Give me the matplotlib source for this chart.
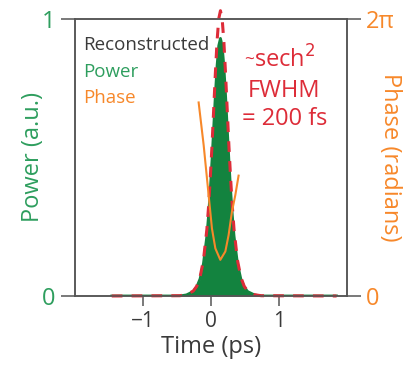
import numpy as np
import matplotlib
matplotlib.use("Agg")
import matplotlib.pyplot as plt

plt.rcParams['font.family'] = ['Open Sans', 'DejaVu Sans']

# --- data ---
# reconstructed power (a.u.)
t_power = [-1.46, -0.46, -0.36, -0.26, -0.21, -0.16, -0.11, -0.06, -0.035, -0.01,
           0.015, 0.04, 0.065, 0.09, 0.115, 0.14, 0.165, 0.19, 0.215, 0.24,
           0.265, 0.29, 0.315, 0.34, 0.39, 0.44, 0.49, 0.54, 0.64, 0.74, 1.85]
power = [0.0, 0.0, 0.004, 0.016, 0.032, 0.062, 0.118, 0.217, 0.291, 0.382,
         0.488, 0.606, 0.726, 0.831, 0.904, 0.93, 0.904, 0.831, 0.726, 0.606,
         0.488, 0.382, 0.291, 0.217, 0.118, 0.062, 0.032, 0.016, 0.004, 0.0, 0.0]

# ~sech^2 fit (dashed)
t_fit = t_power
fit = [0.0, 0.001, 0.0046, 0.018, 0.035, 0.068, 0.130, 0.240, 0.322, 0.423,
       0.540, 0.671, 0.803, 0.920, 1.001, 1.03, 1.001, 0.920, 0.803, 0.671,
       0.540, 0.423, 0.322, 0.240, 0.130, 0.068, 0.035, 0.018, 0.0046, 0.001, 0.0]

# reconstructed phase (radians)
t_phase = [-0.181, -0.107, -0.034, 0.015, 0.065, 0.138, 0.212, 0.260, 0.309, 0.359, 0.407]
phase = [4.39, 3.42, 2.29, 1.53, 1.08, 0.82, 1.01, 1.38, 1.91, 2.29, 2.73]

xticks = [-1, 0, 1]

# --- colours ---
green_fill = '#13833f'
green_txt = '#2e9e5e'
orange = '#f7882a'
red = '#dd2c38'
gray = '#555555'
dark = '#3a3a3a'

fig = plt.figure(figsize=(4.08, 3.74), dpi=100)
ax = fig.add_axes([0.184, 0.2086, 0.666, 0.7406])
ax2 = ax.twinx()

ax.fill_between(t_power, 0, power, color=green_fill, lw=0, zorder=2)
ax.plot(t_power, power, color=green_fill, lw=2, zorder=3)
ax.plot(t_fit, fit, color=red, lw=2.2, dashes=(3.5, 3), zorder=4, clip_on=False)
ax2.plot(t_phase, phase, color=orange, lw=1.5, zorder=5)

ax.set_xlim(-2, 2)
ax.set_ylim(0, 1)
ax2.set_ylim(0, 2 * np.pi)

ax.set_xticks(xticks)
ax.set_xticklabels(['\u22121', '0', '1'])
ax.set_yticks([0, 1])
ax.set_yticklabels(['0', '1'])
ax2.set_yticks([0, 2 * np.pi])
ax2.set_yticklabels(['0', '2\u03c0'])

ax.tick_params(axis='x', direction='out', length=7, width=1.1, color=gray,
               labelsize=15, labelcolor=dark, pad=4)
ax.tick_params(axis='y', direction='out', length=10, width=1.1, color=gray,
               labelsize=17, labelcolor=green_txt, pad=4)
ax2.tick_params(axis='y', direction='out', length=10, width=1.1, color=gray,
                labelsize=17, labelcolor=orange, pad=4)

for a in (ax, ax2):
    for s in a.spines.values():
        s.set_color(gray)
        s.set_linewidth(1.1)

ax.set_xlabel('Time (ps)', fontsize=17, color=dark, labelpad=2)
ax.set_ylabel('Power (a.u.)', fontsize=17, color=green_txt, va='center')
ax.yaxis.set_label_coords(-0.154, 0.5)
ax2.set_ylabel('Phase (radians)', fontsize=17, color=orange, rotation=270,
               va='center')
ax2.yaxis.set_label_coords(1.16, 0.5)

ax.text(-1.88, 0.905, 'Reconstructed', fontsize=13.5, color=dark, va='center')
ax.text(-1.88, 0.81, 'Power', fontsize=13.5, color=green_txt, va='center')
ax.text(-1.88, 0.716, 'Phase', fontsize=13.5, color=orange, va='center')

# small tilde in front of sech^2
ax.text(0.64, 0.834, '~', fontsize=12.5, color=red, ha='right', va='baseline')
ax.text(0.64, 0.825, 'sech$^2$', fontsize=17, color=red, ha='left', va='baseline')
ax.text(1.08, 0.74, 'FWHM', fontsize=17, color=red, ha='center', va='center')
ax.text(1.08, 0.64, '= 200 fs', fontsize=17, color=red, ha='center', va='center')

fig.savefig('out.png', dpi=100)
